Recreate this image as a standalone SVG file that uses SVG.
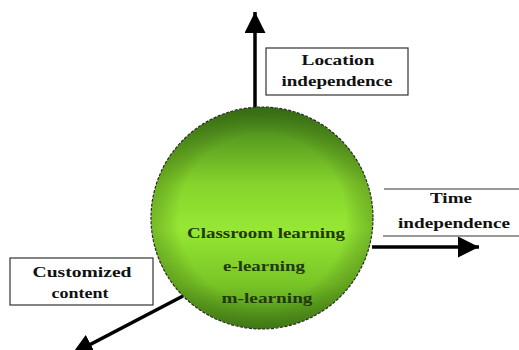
<svg xmlns="http://www.w3.org/2000/svg" width="519" height="350" viewBox="0 0 519 350">
  <defs>
    <linearGradient id="ballGrad" x1="0" y1="0" x2="0" y2="1">
      <stop offset="0" stop-color="#3d7a18"/>
      <stop offset="0.35" stop-color="#86d42c"/>
      <stop offset="0.55" stop-color="#96e834"/>
      <stop offset="0.8" stop-color="#78c426"/>
      <stop offset="1" stop-color="#4a8c1a"/>
    </linearGradient>
    <radialGradient id="edgeShade" cx="0.5" cy="0.5" r="0.5">
      <stop offset="0.75" stop-color="#000" stop-opacity="0"/>
      <stop offset="1" stop-color="#1a3a00" stop-opacity="0.25"/>
    </radialGradient>
    <marker id="arrow" viewBox="0 0 10 10" refX="10" refY="5" markerWidth="6" markerHeight="6" markerUnits="strokeWidth" orient="auto">
      <path d="M0,0 L10,5 L0,10 z" fill="#000"/>
    </marker>
    <style>
      .lbl { font-family: "Liberation Serif", "Times New Roman", serif; font-weight: bold; font-size: 15px; fill: #111; text-anchor: middle; }
      .inner { font-family: "Liberation Serif", "Times New Roman", serif; font-weight: bold; font-size: 15px; fill: #1f3a0a; text-anchor: middle; }
      .box { fill: #fff; stroke: #333; stroke-width: 1.2; }
      .conn { stroke: #000; stroke-width: 3.5; fill: none; marker-end: url(#arrow); }
    </style>
  </defs>
  <rect width="519" height="350" fill="#fff"/>

  <g id="connectors">
    <line class="conn" x1="255" y1="108" x2="255" y2="12"/>
    <line class="conn" x1="372" y1="247" x2="479" y2="247"/>
    <line class="conn" x1="183" y1="296" x2="72" y2="354"/>
  </g>

  <g id="learning-modes">
    <circle cx="262" cy="218" r="111" fill="url(#ballGrad)" stroke="#2a2a2a" stroke-width="1.2" stroke-dasharray="3 1.5"/>
    <circle cx="262" cy="218" r="111" fill="url(#edgeShade)"/>
    <text class="inner" x="266" y="238" textLength="158" lengthAdjust="spacingAndGlyphs">Classroom learning</text>
    <text class="inner" x="264" y="271" textLength="82" lengthAdjust="spacingAndGlyphs">e-learning</text>
    <text class="inner" x="267" y="303" textLength="91" lengthAdjust="spacingAndGlyphs">m-learning</text>
  </g>

  <g id="location-independence">
    <rect class="box" x="266" y="48" width="142" height="47"/>
    <text class="lbl" x="338" y="65" textLength="73" lengthAdjust="spacingAndGlyphs">Location</text>
    <text class="lbl" x="337" y="86" textLength="111" lengthAdjust="spacingAndGlyphs">independence</text>
  </g>

  <g id="time-independence">
    <line x1="384" y1="189" x2="519" y2="189" stroke="#333" stroke-width="1.2"/>
    <line x1="383" y1="236" x2="519" y2="236" stroke="#333" stroke-width="1.2"/>
    <text class="lbl" x="451" y="203" textLength="42" lengthAdjust="spacingAndGlyphs">Time</text>
    <text class="lbl" x="454" y="228" textLength="112" lengthAdjust="spacingAndGlyphs">independence</text>
  </g>

  <g id="customized-content">
    <rect class="box" x="10" y="258" width="143" height="47"/>
    <text class="lbl" x="82" y="277" textLength="99" lengthAdjust="spacingAndGlyphs">Customized</text>
    <text class="lbl" x="80" y="298" textLength="57" lengthAdjust="spacingAndGlyphs">content</text>
  </g>
</svg>
